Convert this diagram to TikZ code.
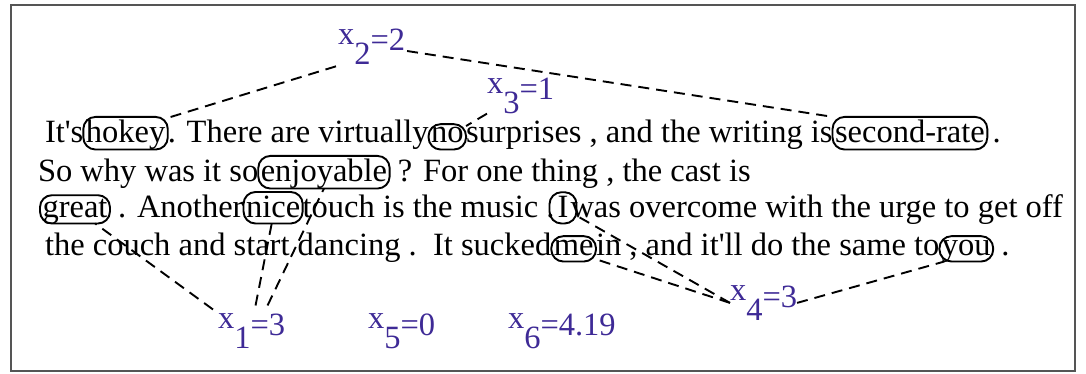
\documentclass[tikz,border=0pt]{standalone}
\usepackage{fontspec}
\setmainfont{Liberation Serif}
\usetikzlibrary{calc}
\definecolor{labc}{RGB}{62,42,150}
\definecolor{framec}{RGB}{85,85,85}
\newcommand\xlab[2]{\raisebox{0.2em}{x}\raisebox{-0.41em}{#1}=#2}
\begin{document}
\begin{tikzpicture}[x=1pt,y=-1pt,
  tx/.style={inner sep=0pt, outer sep=0pt, anchor=base west, font=\fontsize{32.5}{36}\selectfont},
  wd/.style={draw, line width=1.9pt, rounded corners=12pt, inner xsep=2.5pt, inner ysep=3.5pt, text depth=3pt, outer sep=0pt, anchor=base west, font=\fontsize{32.5}{36}\selectfont},
  lab/.style={inner sep=0pt, outer sep=0pt, anchor=base west, text=labc, font=\fontsize{32.5}{36}\selectfont},
  conn/.style={draw, line width=1.9pt, dash pattern=on 11pt off 7pt}]
\useasboundingbox (0,0) rectangle (1086,374);
\draw[framec, line width=1.5pt] (11,5) rectangle (1075,371);
% line 1
\node[tx] (a1) at (45,143) {It\textquotesingle s};
\node[wd] (hokey) at (a1.base east) {hokey};
\node[tx] (a2) at (hokey.base east) {. There are virtually};
\node[wd] (no) at (a2.base east) {no};
\node[tx] (a3) at (no.base east) {surprises , and the writing is};
\node[wd] (second) at (a3.base east) {second-rate};
\node[tx] (a4) at (second.base east) {\,.};
% line 2
\node[tx] (b1) at (38,182) {So why was it so};
\node[wd] (enjoy) at (b1.base east) {enjoyable};
\node[tx] (b2) at (enjoy.base east) {\ ? For one thing , the cast is};
% line 3
\node[wd] (great) at (40,217) {great};
\node[tx] (c1) at (great.base east) {\ . Another};
\node[wd] (nice) at (c1.base east) {nice};
\node[tx] (c2) at (nice.base east) {touch is the music .};
\node[wd, minimum width=27pt] (I) at ($(c2.base east)+(-5,0)$) {I};
\node[tx] (c3) at ($(I.base east)+(-6,0)$) {was overcome with the urge to get off};
% line 4
\node[tx] (d1) at (45,255) {the couch and start dancing .\ \ It sucked};
\node[wd] (me) at (d1.base east) {me};
\node[tx] (d2) at (me.base east) {in , and it\textquotesingle ll do the same to};
\node[wd] (you) at (d2.base east) {you};
\node[tx] (d3) at (you.base east) {\ .};
% labels
\node[lab] (x2) at (338,51) {\xlab{2}{2}};
\node[lab] (x3) at (487,100) {\xlab{3}{1}};
\node[lab] (x1) at (218,335) {\xlab{1}{3}};
\node[lab] (x5) at (368,335) {\xlab{5}{0}};
\node[lab] (x6) at (508,335) {\xlab{6}{4.19}};
\node[lab] (x4) at (730,307) {\xlab{4}{3}};
% connectors
\draw[conn] ($(x2.south west)+(-2,2)$) -- (hokey.20);
\draw[conn] ($(x2.base east)+(2,0)$) -- (second.168);
\draw[conn] (x3.south west) -- (no.30);
\draw[conn] ($(x1.north west)+(-5,-4)$) -- (great.-35);
\draw[conn] ($(x1.north)+(4,-8)$) -- (nice.-95);
\draw[conn] ($(x1.north)+(16,-8)$) -- (enjoy.south);
\draw[conn] (x4.west) -- (I.-30);
\draw[conn] (x4.west) -- (me.-25);
\draw[conn] (x4.east) -- (you.-150);
\end{tikzpicture}
\end{document}
